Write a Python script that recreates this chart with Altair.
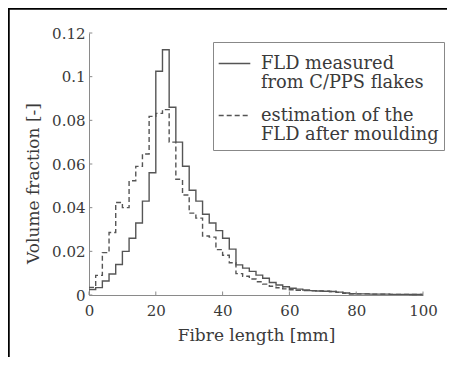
import altair as alt
import pandas as pd

# bin starts (mm), 2 mm bins
bin_start = list(range(0, 100, 2))

measured = [0.0025, 0.0034, 0.0064, 0.0096, 0.014, 0.020, 0.026, 0.033, 0.043, 0.056,
            0.1025, 0.1123, 0.086, 0.070, 0.059, 0.048, 0.043, 0.037, 0.033, 0.0295,
            0.026, 0.021, 0.0138, 0.0123, 0.0108, 0.0091, 0.0077, 0.0057, 0.0046, 0.0038,
            0.0031, 0.0027, 0.0023, 0.0020, 0.0018, 0.0017, 0.0016, 0.0013, 0.0009, 0.0006,
            0.0005, 0.0005, 0.0004, 0.0004, 0.0004, 0.0003, 0.0003, 0.0003, 0.0002, 0.0002]

estimated = [0.0035, 0.009, 0.0194, 0.0286, 0.0424, 0.040, 0.0523, 0.0589, 0.0646, 0.0818,
             0.0832, 0.0849, 0.0700, 0.053, 0.0458, 0.0375, 0.0352, 0.0270, 0.0265, 0.0208,
             0.0182, 0.0148, 0.0098, 0.0086, 0.0073, 0.0061, 0.0050, 0.0040, 0.0033, 0.0028,
             0.0024, 0.0021, 0.0020, 0.0019, 0.0018, 0.0017, 0.0016, 0.0012, 0.0008, 0.0006,
             0.0005, 0.0005, 0.0004, 0.0004, 0.0004, 0.0003, 0.0003, 0.0003, 0.0002, 0.0002]

series_names = ["FLD measured|from C/PPS flakes", "estimation of the|FLD after moulding"]

x_ticks = [0, 20, 40, 60, 80, 100]
y_ticks = [0, 0.02, 0.04, 0.06, 0.08, 0.1, 0.12]

rows = []
for name, vals in zip(series_names, [measured, estimated]):
    for s, v in zip(bin_start, vals):
        rows.append({"len": s, "vf": v, "series": name})
    rows.append({"len": 100, "vf": vals[-1], "series": name})
df = pd.DataFrame(rows)

FONT = "DejaVu Serif"
TXT = "#3a3a3a"
AX = "#8a8a8a"
LINE = "#555555"

xscale = alt.Scale(domain=[0, 100], nice=False)
yscale = alt.Scale(domain=[0, 0.12], nice=False)

lines = alt.Chart(df).mark_line(interpolate="step-after", color=LINE, strokeWidth=1.4).encode(
    x=alt.X("len:Q", scale=xscale,
            axis=alt.Axis(values=x_ticks, title="Fibre length [mm]", grid=False, ticks=False,
                          labelFlush=False, labelPadding=8, titlePadding=9)),
    y=alt.Y("vf:Q", scale=yscale,
            axis=alt.Axis(values=y_ticks, format=".2~f", title="Volume fraction [-]", grid=False,
                          ticks=False, labelFlush=False, labelPadding=4, titleX=-56, titleY=150,
                          titleBaseline="middle", titleAlign="center")),
    strokeDash=alt.StrokeDash(
        "series:N",
        scale=alt.Scale(domain=series_names, range=[[1, 0], [5, 3]]),
        legend=alt.Legend(title=None, orient="none", legendX=124, legendY=9,
                          labelExpr="split(datum.label, '|')",
                          symbolType="stroke", symbolSize=1000, symbolStrokeWidth=1.3,
                          symbolStrokeColor=LINE, labelOffset=10, rowPadding=6,
                          strokeColor="#888888", fillColor="white", padding=5,
                          labelFontSize=17.8, labelFont=FONT, labelColor=TXT,
                          labelLimit=400, labelBaseline="middle"),
    ),
)

xt = pd.DataFrame({"x": x_ticks})
xtick_layer = alt.Chart(xt).mark_rule(color=AX, strokeWidth=1).encode(
    x=alt.X("x:Q", scale=xscale), y=alt.datum(0), y2=alt.datum(0.0016))

yt = pd.DataFrame({"y": y_ticks})
ytick_layer = alt.Chart(yt).mark_rule(color=AX, strokeWidth=1).encode(
    y=alt.Y("y:Q", scale=yscale), x=alt.datum(0), x2=alt.datum(1.0))

# outer picture frame (decoration around the figure): left and top edges
frame_left = alt.Chart(pd.DataFrame({"f": [0]})).mark_rule(
    color="black", strokeWidth=2.5).encode(
    x=alt.value(-80.5), y=alt.value(-25.5), y2=alt.value(420))
frame_top = alt.Chart(pd.DataFrame({"f": [0]})).mark_rule(
    color="black", strokeWidth=2.5).encode(
    y=alt.value(-24.5), x=alt.value(-82), x2=alt.value(360))

chart = alt.layer(lines, xtick_layer, ytick_layer, frame_left, frame_top).properties(
    width=334, height=262,
    autosize=alt.AutoSizeParams(type="none"),
    padding={"left": 81, "top": 25, "right": 24, "bottom": 62},
).configure_view(stroke=None).configure_axis(
    domainColor=AX, domainWidth=1, labelFont=FONT, titleFont=FONT,
    labelFontSize=15, titleFontSize=17, labelColor=TXT, titleColor=TXT,
    titleFontWeight="normal",
)

chart.save("out.html", embed_options={"renderer": "svg", "actions": False})
